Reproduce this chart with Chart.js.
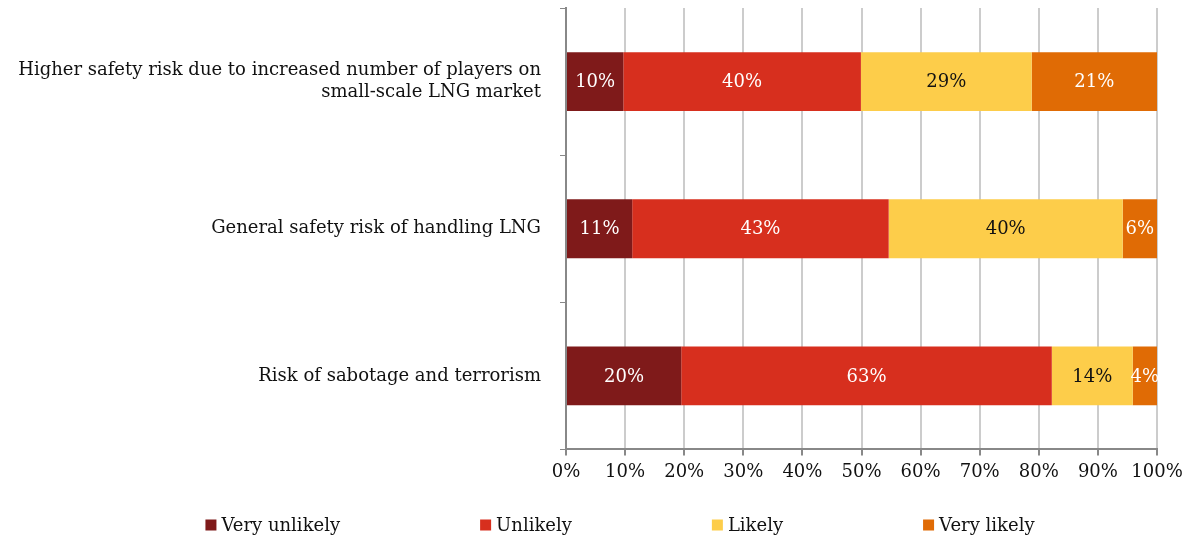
<!DOCTYPE html>
<html>
<head>
    <title>Safety risks of small-scale LNG</title>
    <script src="https://cdn.jsdelivr.net/npm/chart.js"></script>
    <style>
        html, body { margin: 0; padding: 0; background: #fff; }
        #wrap { width: 1193px; height: 538px; }
    </style>
</head>
<body>
<div id="wrap"><canvas id="riskChart"></canvas></div>

<script>
    // categories (top to bottom)
    const categories = [
        ['Higher safety risk due to increased number of players on', 'small-scale LNG market'],
        'General safety risk of handling LNG',
        'Risk of sabotage and terrorism'
    ];

    // series values, % of respondents
    const veryUnlikely = [9.7, 11.2, 19.5];
    const unlikely     = [40.2, 43.4, 62.7];
    const likely       = [28.9, 39.6, 13.7];
    const veryLikely   = [21.2, 5.8, 4.1];

    const xTicks = [0, 10, 20, 30, 40, 50, 60, 70, 80, 90, 100];

    const FONT = '"DejaVu Serif", "Liberation Serif", serif';
    const SIZE = 18;

    // draws the rounded value in the middle of every bar segment
    const segmentLabels = {
        id: 'segmentLabels',
        afterDatasetsDraw(chart) {
            const ctx = chart.ctx;
            ctx.save();
            ctx.font = SIZE + 'px ' + FONT;
            ctx.textAlign = 'center';
            ctx.textBaseline = 'middle';
            chart.data.datasets.forEach((ds, i) => {
                const meta = chart.getDatasetMeta(i);
                meta.data.forEach((bar, j) => {
                    const v = ds.data[j];
                    const mid = (bar.x + bar.base) / 2;
                    ctx.fillStyle = ds.labelColor;
                    ctx.fillText(Math.round(v) + '%', mid, bar.y + 1);
                });
            });
            ctx.restore();
        }
    };

    // legend drawn by hand so the items can sit far apart on one line
    const wideLegend = {
        id: 'wideLegend',
        afterDraw(chart) {
            const ctx = chart.ctx;
            const box = 11, gap = 5, spacing = 140;
            const y = 525;
            ctx.save();
            ctx.font = SIZE + 'px ' + FONT;
            ctx.textBaseline = 'middle';
            ctx.textAlign = 'left';
            const items = chart.data.datasets.map(ds => ({
                text: ds.label, color: ds.backgroundColor,
                w: box + gap + ctx.measureText(ds.label).width
            }));
            const total = items.reduce((s, it) => s + it.w, 0) + spacing * (items.length - 1);
            let x = 620 - total / 2;
            items.forEach(it => {
                ctx.fillStyle = it.color;
                ctx.fillRect(x, y - box / 2, box, box);
                ctx.fillStyle = '#111111';
                ctx.fillText(it.text, x + box + gap, y + 1);
                x += it.w + spacing;
            });
            ctx.restore();
        }
    };

    new Chart(document.getElementById('riskChart'), {
        type: 'bar',
        data: {
            labels: categories,
            datasets: [
                { label: 'Very unlikely', data: veryUnlikely, backgroundColor: '#7f1a1a', labelColor: '#ffffff' },
                { label: 'Unlikely', data: unlikely, backgroundColor: '#d72f1e', labelColor: '#ffffff' },
                { label: 'Likely', data: likely, backgroundColor: '#fdcd4a', labelColor: '#111111' },
                { label: 'Very likely', data: veryLikely, backgroundColor: '#e06b05', labelColor: '#ffffff' }
            ]
        },
        options: {
            indexAxis: 'y',
            responsive: true,
            maintainAspectRatio: false,
            animation: false,
            datasets: {
                bar: { categoryPercentage: 0.8, barPercentage: 0.5, borderWidth: 0 }
            },
            layout: { padding: { top: 8, right: 36, left: 0, bottom: 49 } },
            scales: {
                x: {
                    stacked: true,
                    min: 0,
                    max: 100,
                    afterBuildTicks(axis) {
                        axis.ticks = xTicks.map(v => ({ value: v }));
                    },
                    grid: { color: '#cccccc', lineWidth: 2, tickColor: '#888888', tickLength: 6 },
                    border: { color: '#888888', width: 2 },
                    ticks: {
                        callback: v => v + '%',
                        color: '#111111',
                        font: { family: FONT, size: SIZE },
                        padding: 6
                    }
                },
                y: {
                    stacked: true,
                    afterFit(axis) {
                        axis.width = 566;
                        axis.paddingTop = 0;
                        axis.paddingBottom = 0;
                    },
                    grid: { drawOnChartArea: false, offset: true, tickColor: '#888888', tickLength: 6 },
                    border: { color: '#888888', width: 2 },
                    ticks: {
                        color: '#111111',
                        font: { family: FONT, size: SIZE },
                        padding: 19
                    }
                }
            },
            plugins: {
                legend: { display: false },
                tooltip: { enabled: false }
            }
        },
        plugins: [segmentLabels, wideLegend]
    });
</script>
</body>
</html>
